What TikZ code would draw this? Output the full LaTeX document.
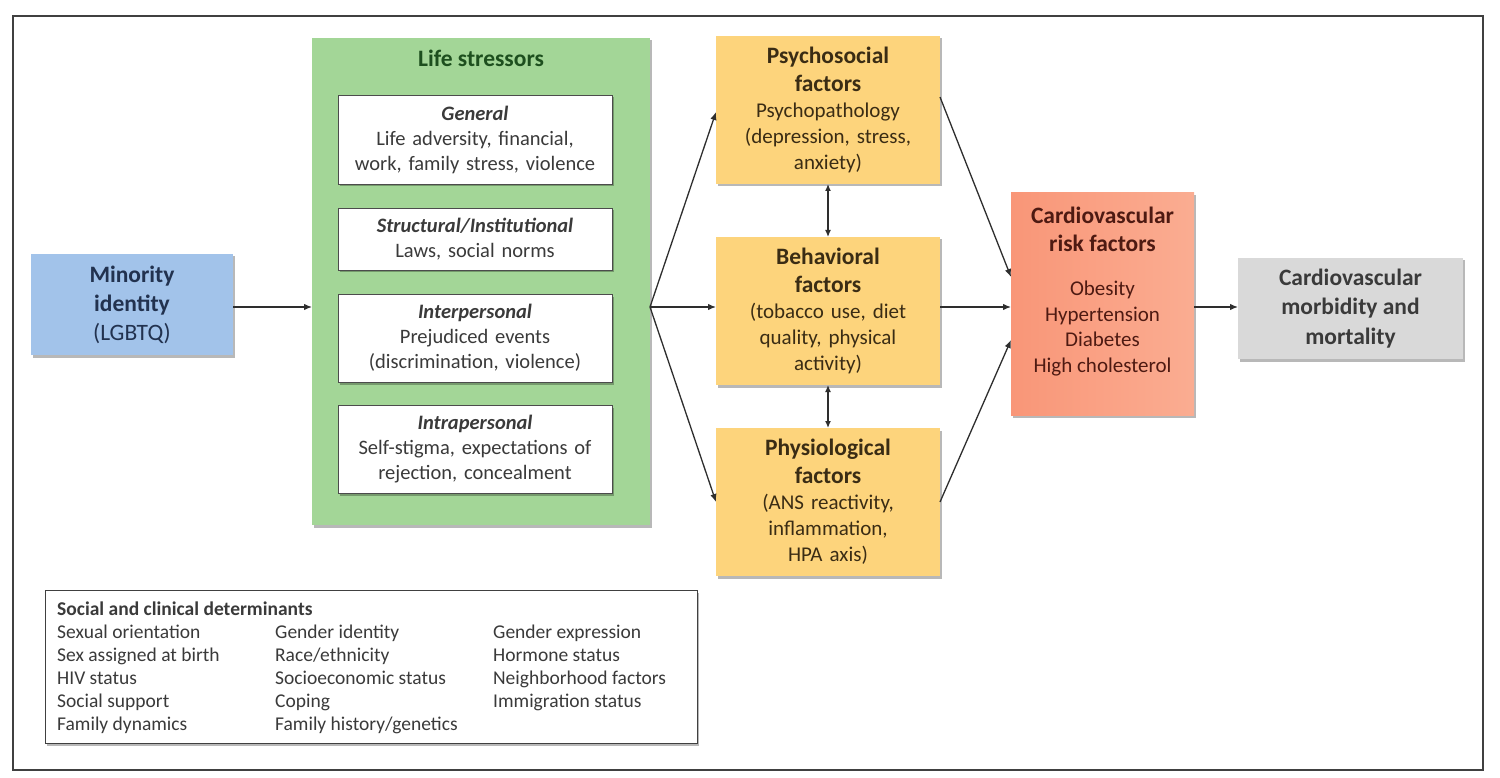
\documentclass[tikz,border=0pt]{standalone}
\usepackage{fontspec}
\setmainfont{Carlito}
\usetikzlibrary{arrows.meta,shadows}
\definecolor{frameC}{HTML}{404040}
\definecolor{blueF}{HTML}{A2C3EA}
\definecolor{blueT}{HTML}{22324F}
\definecolor{greenF}{HTML}{A3D697}
\definecolor{greenT}{HTML}{1D4F1E}
\definecolor{orangeF}{HTML}{FDD47C}
\definecolor{orangeT}{HTML}{3A2C14}
\definecolor{riskF}{HTML}{F99E7E}
\definecolor{riskT}{HTML}{4E1A12}
\definecolor{grayF}{HTML}{D9D9D9}
\definecolor{txt}{HTML}{3A3A3A}
\definecolor{arrC}{HTML}{2E2E2E}
\begin{document}
\begin{tikzpicture}[x=1pt,y=-1pt,
  shad/.style={drop shadow={shadow xshift=2pt,shadow yshift=-2.5pt,fill=black,opacity=0.28}},
  boxbase/.style={shad,inner sep=2pt,outer sep=0pt,align=center,anchor=north west},
  bluebox/.style={boxbase,fill=blueF,text=blueT,font=\fontsize{23.5}{29}\selectfont},
  greenbox/.style={boxbase,fill=greenF},
  whitebox/.style={boxbase,fill=white,draw=black!70,line width=0.8pt,text=txt,font=\fontsize{20.5}{25}\selectfont,minimum width=273,text width=270},
  orangebox/.style={boxbase,fill=orangeF,text=orangeT,font=\fontsize{21}{26}\selectfont,minimum width=224,minimum height=148,text width=220},
  riskbox/.style={boxbase,left color=riskF!95!red,right color=riskF!85!white,minimum width=183,minimum height=222},
  graybox/.style={boxbase,fill=grayF,text=txt,font=\bfseries\fontsize{23.5}{29.5}\selectfont,minimum width=225,minimum height=101},
  socialbox/.style={boxbase,fill=white,draw=black!75,line width=1pt,minimum width=652,minimum height=153,inner sep=0pt},
  arr/.style={draw=arrC,line width=1.3pt,-{Latex[length=8pt,width=6.5pt]}},
  darr/.style={draw=arrC,line width=1.3pt,{Latex[length=7pt,width=6pt]}-{Latex[length=7pt,width=6pt]}}]
\useasboundingbox (0,0) rectangle (1500,778);
\fill[white] (0,0) rectangle (1500,778);
\draw[frameC,line width=1.6pt] (13,16) rectangle (1483,770);

% Minority identity
\node[bluebox,minimum width=202,minimum height=101] (minority) at (31,254)
  {\textbf{Minority}\\\textbf{identity}\\(LGBTQ)};

% Life stressors
\node[greenbox,minimum width=338,minimum height=487] (stress) at (312,38) {};
\node[anchor=north,text=greenT,font=\bfseries\fontsize{23.5}{28}\selectfont,inner sep=0pt] (stresstitle) at (481,50) {Life stressors};
\node[whitebox,minimum height=89] (general) at (338,95)
  {\textbf{\textit{General}}\\Life adversity, financial,\\work, family stress, violence};
\node[whitebox,minimum height=62] (structural) at (338,208)
  {\textbf{\textit{Structural/Institutional}}\\Laws, social norms};
\node[whitebox,minimum height=88] (interpersonal) at (338,294)
  {\textbf{\textit{Interpersonal}}\\Prejudiced events\\(discrimination, violence)};
\node[whitebox,minimum height=88] (intrapersonal) at (338,405)
  {\textbf{\textit{Intrapersonal}}\\Self-stigma, expectations of\\rejection, concealment};

% Factor boxes
\node[orangebox] (psych) at (716,36)
  {{\bfseries\fontsize{23.5}{28}\selectfont Psychosocial\\factors\\}Psychopathology\\(depression, stress,\\anxiety)};
\node[orangebox] (behav) at (716,237)
  {{\bfseries\fontsize{23.5}{28}\selectfont Behavioral\\factors\\}(tobacco use, diet\\quality, physical\\activity)};
\node[orangebox] (physio) at (716,428)
  {{\bfseries\fontsize{23.5}{28}\selectfont Physiological\\factors\\}(ANS reactivity,\\inflammation,\\HPA axis)};

% Risk factors
\node[riskbox] (risk) at (1011,193) {};
\node[anchor=north,align=center,text=riskT,font=\bfseries\fontsize{23.5}{28}\selectfont,inner sep=0pt] (risktitle) at (1102.5,207)
  {Cardiovascular\\risk factors};
\node[anchor=north,align=center,text=riskT,font=\fontsize{21}{25.5}\selectfont,inner sep=0pt] (risklist) at (1102.5,281)
  {Obesity\\Hypertension\\Diabetes\\High cholesterol};

% Morbidity
\node[graybox] (morb) at (1238,258) {Cardiovascular\\morbidity and\\mortality};

% Social determinants
\node[socialbox] (social) at (45,590) {};
\node[anchor=north west,inner sep=0pt,text=txt,font=\fontsize{19.5}{23}\selectfont] (socialtext) at (57,599)
  {\begin{tabular}{@{}p{218pt}@{}p{218pt}@{}l@{}}
   \multicolumn{3}{@{}l}{\bfseries Social and clinical determinants}\\
   Sexual orientation & Gender identity & Gender expression\\
   Sex assigned at birth & Race/ethnicity & Hormone status\\
   HIV status & Socioeconomic status & Neighborhood factors\\
   Social support & Coping & Immigration status\\
   Family dynamics & Family history/genetics &
   \end{tabular}};

% Connectors
\coordinate (fan) at (650,307);
\draw[arr] (minority.east |- fan) -- (stress.west |- fan);
\draw[arr] (fan) -- ([yshift=-2pt]psych.west);
\draw[arr] (fan) -- (behav.west |- fan);
\draw[arr] (fan) -- (physio.west);
\draw[darr] (psych.south) -- (behav.north);
\draw[darr] (behav.south) -- (physio.north);
\draw[arr] ([yshift=13pt]psych.east) -- ([yshift=27pt]risk.west);
\draw[arr] (behav.east |- fan) -- (risk.west |- fan);
\draw[arr] (physio.east) -- ([yshift=-36pt]risk.west);
\draw[arr] (risk.east |- fan) -- (morb.west |- fan);
\end{tikzpicture}
\end{document}
